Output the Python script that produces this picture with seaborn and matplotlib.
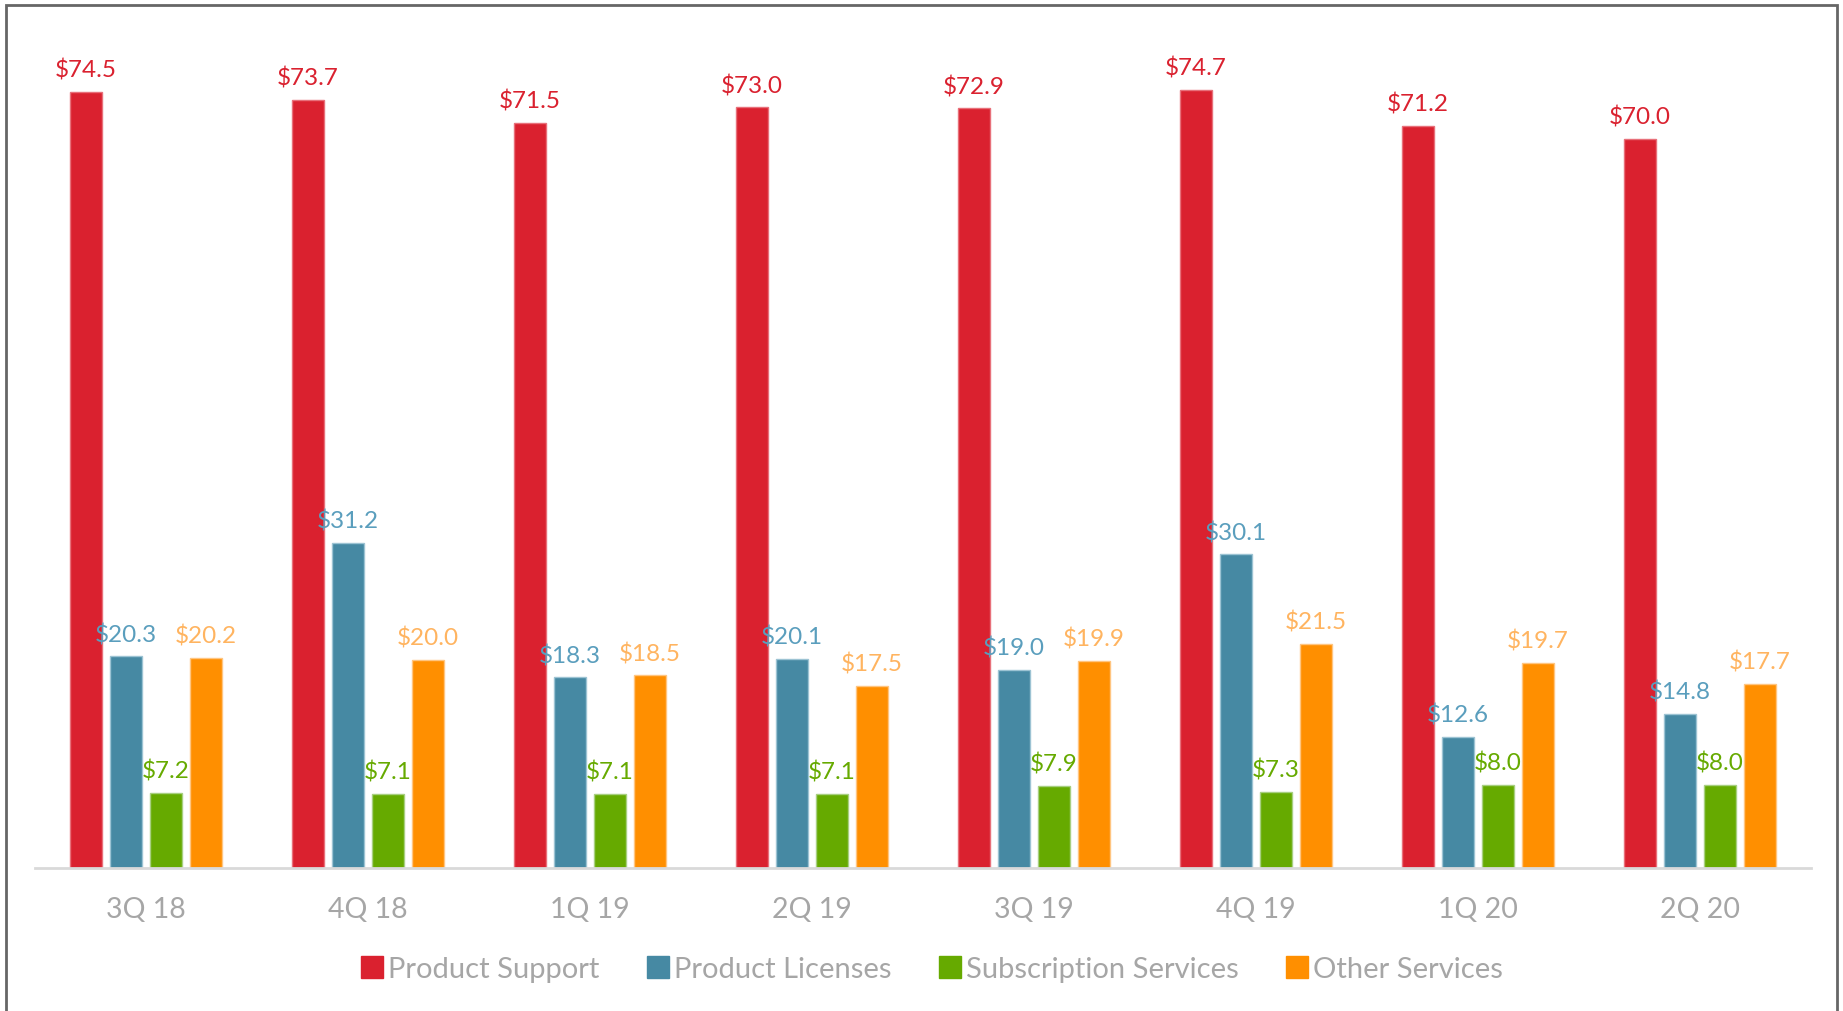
import matplotlib
matplotlib.use("Agg")
import matplotlib.pyplot as plt
import seaborn as sns
import pandas as pd
from matplotlib.patches import Rectangle
from matplotlib.lines import Line2D

quarters = ["3Q 18", "4Q 18", "1Q 19", "2Q 19", "3Q 19", "4Q 19", "1Q 20", "2Q 20"]
product_support = [74.5, 73.7, 71.5, 73.0, 72.9, 74.7, 71.2, 70.0]
product_licenses = [20.3, 31.2, 18.3, 20.1, 19.0, 30.1, 12.6, 14.8]
subscription_services = [7.2, 7.1, 7.1, 7.1, 7.9, 7.3, 8.0, 8.0]
other_services = [20.2, 20.0, 18.5, 17.5, 19.9, 21.5, 19.7, 17.7]
series_names = ["Product Support", "Product Licenses", "Subscription Services", "Other Services"]

bar_colors = ["#DA212F", "#4689A3", "#66AA00", "#FF8F00"]
edge_colors = ["#E8707A", "#9CC3D3", "#A8CF80", "#FFC580"]
label_colors = ["#DA212F", "#5A9EBD", "#66AA00", "#FFB460"]

rows = []
for name, vals in zip(series_names, [product_support, product_licenses, subscription_services, other_services]):
    for q, v in zip(quarters, vals):
        rows.append({"Quarter": q, "Series": name, "Value": v})
df = pd.DataFrame(rows)

sns.set_theme(style="white")
plt.rcParams["font.family"] = ["Lato", "DejaVu Sans"]

W, H = 1843, 1012
fig = plt.figure(figsize=(W / 100, H / 100), dpi=100)
ax_left, ax_right = 35 / W, 1811 / W
ax_bottom = (H - 869) / H
ymax = 80
top_px = 869 - ymax * 10.42
ax_top = 1 - top_px / H
ax = fig.add_axes([ax_left, ax_bottom, ax_right - ax_left, ax_top - ax_bottom])

sns.barplot(data=df, x="Quarter", y="Value", hue="Series", order=quarters,
            hue_order=series_names, palette=bar_colors, width=0.72, gap=0.22,
            saturation=1, ax=ax, legend=False)

ax.set_ylim(0, ymax)
ax.set_xlim(-0.5, len(quarters) - 0.5)

for i, cont in enumerate(ax.containers):
    for p in cont:
        p.set_edgecolor(edge_colors[i])
        p.set_linewidth(1.0)
    ax.bar_label(cont, labels=[f"${v:.1f}" for v in cont.datavalues],
                 padding=8, color=label_colors[i], fontsize=17.5)

for s in ["top", "right", "left"]:
    ax.spines[s].set_visible(False)
ax.spines["bottom"].set_color("#D9D9D9")
ax.spines["bottom"].set_linewidth(2)
ax.set_yticks([])
ax.set_xlabel("")
ax.set_ylabel("")
ax.tick_params(axis="x", length=0, pad=20, labelsize=20.5, labelcolor="#A6A6A6")

handles = [Line2D([0], [0], marker="s", linestyle="none", markersize=16,
                  markerfacecolor=c, markeredgecolor=c) for c in bar_colors]
leg = fig.legend(handles, series_names, loc="center", bbox_to_anchor=(930 / W, 1 - 970 / H),
                 ncol=4, frameon=False, fontsize=21, handletextpad=0.05, columnspacing=1.5,
                 handlelength=1.0)
for t in leg.get_texts():
    t.set_color("#A6A6A6")

fig.patches.append(Rectangle((6 / W, -0.1), (1837 - 6) / W, 1.1 - 6 / H, transform=fig.transFigure,
                             fill=False, edgecolor="#666666", linewidth=2))

fig.savefig("out.png", dpi=100, facecolor="white")
